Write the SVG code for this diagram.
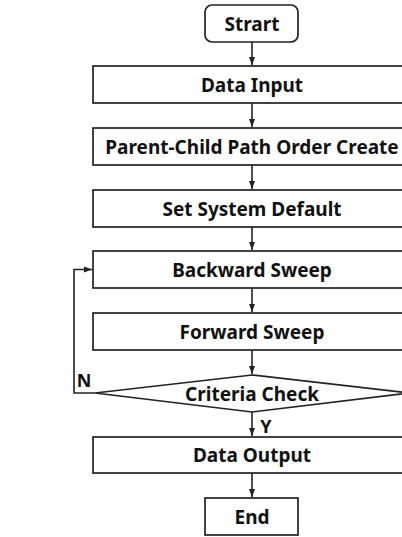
<svg xmlns="http://www.w3.org/2000/svg" width="402" height="537" viewBox="0 0 402 537">
<style>
.box{fill:#fff;stroke:#222;stroke-width:1.7}
.t{font-family:"Noto Sans","Open Sans",sans-serif;font-weight:bold;font-size:19px;fill:#111;text-anchor:middle}
.c{fill:none;stroke:#222;stroke-width:1.6}
</style>
<defs>
<marker id="ah" viewBox="0 0 8 8" refX="8" refY="4" markerWidth="8" markerHeight="8" markerUnits="userSpaceOnUse" orient="auto">
<path d="M0,1 L8,4 L0,7 Z" fill="#222"/>
</marker>
</defs>
<rect width="402" height="537" fill="#fff"/>
<g id="connectors">
<line class="c" x1="252" y1="42" x2="252" y2="65" marker-end="url(#ah)"/>
<line class="c" x1="252" y1="103" x2="252" y2="127" marker-end="url(#ah)"/>
<line class="c" x1="252" y1="165" x2="252" y2="189" marker-end="url(#ah)"/>
<line class="c" x1="252" y1="227" x2="252" y2="250" marker-end="url(#ah)"/>
<line class="c" x1="252" y1="288" x2="252" y2="312" marker-end="url(#ah)"/>
<line class="c" x1="252" y1="350" x2="252" y2="374" marker-end="url(#ah)"/>
<line class="c" x1="252" y1="412" x2="252" y2="436" marker-end="url(#ah)"/>
<line class="c" x1="252" y1="473" x2="252" y2="497" marker-end="url(#ah)"/>
<polyline class="c" points="95,393 74,393 74,269.5 92,269.5" marker-end="url(#ah)"/>
<text class="t" x="84" y="387" style="font-size:18px">N</text>
<text class="t" x="266" y="433" style="font-size:18px">Y</text>
</g>
<g id="start"><rect class="box" x="205" y="5" width="93" height="37" rx="7"/><text class="t" x="252" y="30.5">Strart</text></g>
<g id="data-input"><rect class="box" x="93" y="66" width="318" height="37"/><text class="t" x="252" y="92">Data Input</text></g>
<g id="path-order"><rect class="box" x="93" y="128" width="318" height="37"/><text class="t" x="252" y="154">Parent-Child Path Order Create</text></g>
<g id="system-default"><rect class="box" x="93" y="190" width="318" height="37"/><text class="t" x="252" y="216">Set System Default</text></g>
<g id="backward"><rect class="box" x="93" y="251" width="318" height="37"/><text class="t" x="252" y="277">Backward Sweep</text></g>
<g id="forward"><rect class="box" x="93" y="313" width="318" height="37"/><text class="t" x="252" y="339">Forward Sweep</text></g>
<g id="criteria"><polygon class="box" points="252,375 409,393 252,412 95,393"/><text class="t" x="252" y="401">Criteria Check</text></g>
<g id="data-output"><rect class="box" x="93" y="437" width="318" height="36"/><text class="t" x="252" y="462">Data Output</text></g>
<g id="end"><rect class="box" x="205" y="498" width="93" height="37"/><text class="t" x="252" y="523.5">End</text></g>
</svg>
